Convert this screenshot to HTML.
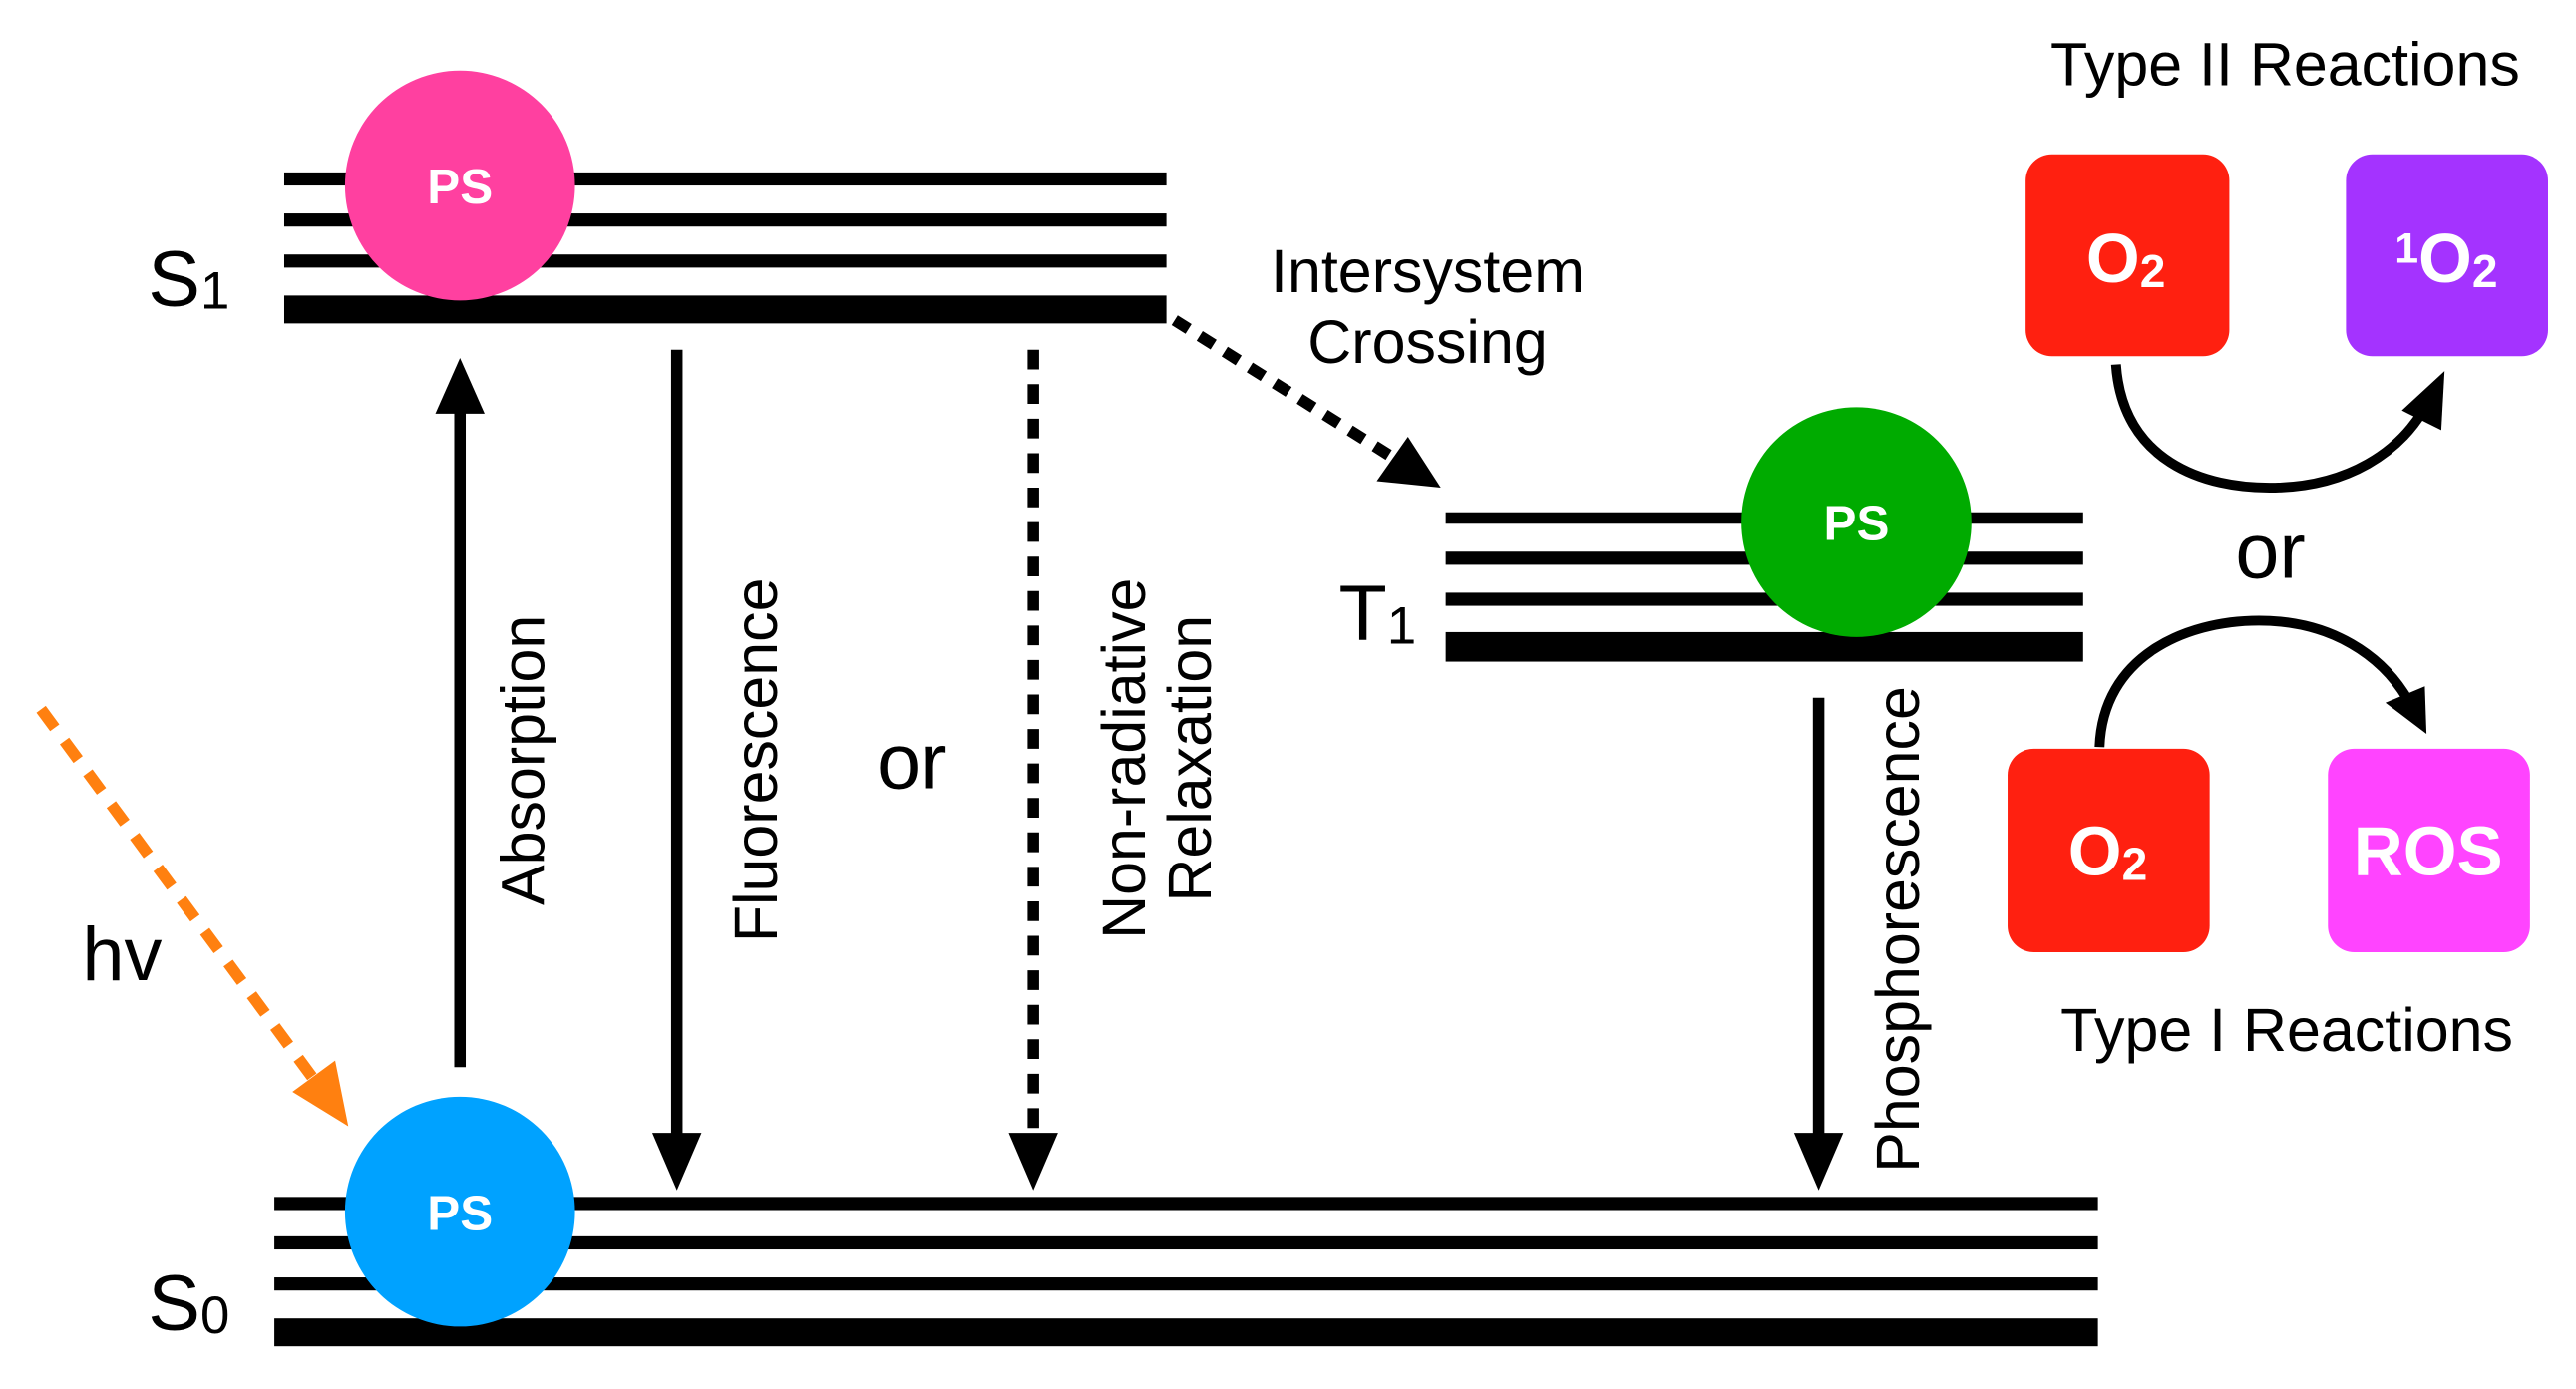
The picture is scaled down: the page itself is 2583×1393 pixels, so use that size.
<!DOCTYPE html>
<html><head><meta charset="utf-8"><style>html,body{margin:0;padding:0;background:#fff;}svg{display:block;}</style></head>
<body>
<svg width="2583" height="1393" viewBox="0 0 1568 846" preserveAspectRatio="none" xmlns="http://www.w3.org/2000/svg" font-family="'Liberation Sans', Arial, sans-serif">
<rect width="1568" height="846" fill="#fff"/>
<g fill="#000">
<rect x="173" y="105" width="537" height="8"/>
<rect x="173" y="130" width="537" height="8"/>
<rect x="173" y="155" width="537" height="8"/>
<rect x="173" y="180" width="537" height="17"/>
<rect x="880" y="312" width="388" height="7"/>
<rect x="880" y="336" width="388" height="8"/>
<rect x="880" y="361" width="388" height="8"/>
<rect x="880" y="385" width="388" height="18"/>
<rect x="167" y="729" width="1110" height="8"/>
<rect x="167" y="753" width="1110" height="8"/>
<rect x="167" y="778" width="1110" height="8"/>
<rect x="167" y="803" width="1110" height="17"/>
</g>
<circle cx="280" cy="113" r="70" fill="#ff40a0"/>
<text x="280" y="124" font-size="30" font-weight="bold" fill="#fff" text-anchor="middle">PS</text>
<circle cx="1130" cy="318" r="70" fill="#00ab00"/>
<text x="1130" y="329" font-size="30" font-weight="bold" fill="#fff" text-anchor="middle">PS</text>
<circle cx="280" cy="738" r="70" fill="#00a2ff"/>
<text x="280" y="749" font-size="30" font-weight="bold" fill="#fff" text-anchor="middle">PS</text>
<text x="90" y="186" font-size="48">S<tspan font-size="32" dy="2">1</tspan></text>
<text x="815" y="390" font-size="48">T<tspan font-size="32" dy="2">1</tspan></text>
<text x="90" y="810" font-size="48">S<tspan font-size="32" dy="2">0</tspan></text>
<text x="50" y="597" font-size="46">hv</text>
<line x1="280" y1="650" x2="280" y2="248" stroke="#000" stroke-width="7"/>
<polygon points="280,218 265,252 295,252" fill="#000"/>
<line x1="412" y1="213" x2="412" y2="695" stroke="#000" stroke-width="7"/>
<polygon points="412,725 397,690 427,690" fill="#000"/>
<line x1="629" y1="213" x2="629" y2="695" stroke="#000" stroke-width="7" stroke-dasharray="12,9"/>
<polygon points="629,725 614,690 644,690" fill="#000"/>
<line x1="1107" y1="425" x2="1107" y2="695" stroke="#000" stroke-width="7"/>
<polygon points="1107,725 1092,690 1122,690" fill="#000"/>
<line x1="715" y1="195" x2="850" y2="280" stroke="#000" stroke-width="7" stroke-dasharray="10,8"/>
<polygon points="877,297 838,293 857,266" fill="#000"/>
<text x="869" y="178" font-size="37" text-anchor="middle">Intersystem</text>
<text x="869" y="221" font-size="37" text-anchor="middle">Crossing</text>
<line x1="25" y1="432" x2="190" y2="656" stroke="#ff8010" stroke-width="7" stroke-dasharray="14,10"/>
<polygon points="212,686 178,665 204,646" fill="#ff8010"/>
<text transform="translate(331,463) rotate(-90)" font-size="37" text-anchor="middle">Absorption</text>
<text transform="translate(473,463) rotate(-90)" font-size="37" text-anchor="middle">Fluorescence</text>
<text x="555" y="480" font-size="48" text-anchor="middle">or</text>
<text transform="translate(697,462) rotate(-90)" font-size="37" text-anchor="middle">Non-radiative</text>
<text transform="translate(737,462) rotate(-90)" font-size="37" text-anchor="middle">Relaxation</text>
<text transform="translate(1168,566) rotate(-90)" font-size="37" text-anchor="middle">Phosphorescence</text>
<text x="1391" y="52" font-size="37" text-anchor="middle">Type II Reactions</text>
<rect x="1233" y="94" width="124" height="123" rx="16" fill="#ff2010"/>
<text x="1294" y="172" font-size="42" font-weight="bold" fill="#fff" text-anchor="middle">O<tspan font-size="28" dy="3">2</tspan></text>
<rect x="1428" y="94" width="123" height="123" rx="16" fill="#a433ff"/>
<text x="1489" y="172" font-size="42" font-weight="bold" fill="#fff" text-anchor="middle"><tspan font-size="26" dy="-12">1</tspan><tspan dy="12">O</tspan><tspan font-size="28" dy="3">2</tspan></text>
<path d="M1288,222 C1292,280 1340,298 1385,297 C1430,296 1460,275 1475,250" fill="none" stroke="#000" stroke-width="6"/>
<polygon points="1488,226 1462,250 1486,262" fill="#000"/>
<text x="1382" y="352" font-size="48" text-anchor="middle">or</text>
<path d="M1278,455 C1280,400 1330,378 1375,378 C1420,378 1450,400 1465,425" fill="none" stroke="#000" stroke-width="6"/>
<polygon points="1477,447 1452,428 1476,418" fill="#000"/>
<rect x="1222" y="456" width="123" height="124" rx="16" fill="#ff2010"/>
<text x="1283" y="533" font-size="42" font-weight="bold" fill="#fff" text-anchor="middle">O<tspan font-size="28" dy="3">2</tspan></text>
<rect x="1417" y="456" width="123" height="124" rx="16" fill="#ff44ff"/>
<text x="1478" y="533" font-size="42" font-weight="bold" fill="#fff" text-anchor="middle">ROS</text>
<text x="1392" y="640" font-size="37" text-anchor="middle">Type I Reactions</text>
</svg>
</body></html>
